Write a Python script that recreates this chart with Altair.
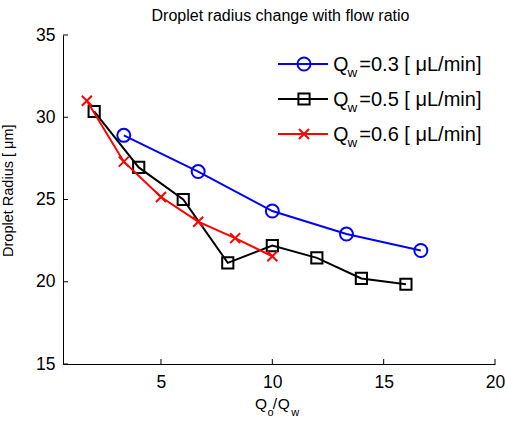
import altair as alt
import pandas as pd

FONT = "Liberation Sans"

# ---- data ----
series_names = ["Qw=0.3", "Qw=0.5", "Qw=0.6"]
legend_rest = ["=0.3 [ \u03bcL/min]", "=0.5 [ \u03bcL/min]", "=0.6 [ \u03bcL/min]"]
series_colors = ["#0000ff", "#000000", "#ff0000"]
series_shapes = ["circle", "square", "M-1,-1L1,1M-1,1L1,-1"]
series_sizes = [169, 125, 100]

x_03 = [3.33, 6.67, 10.0, 13.33, 16.67]
y_03 = [28.9, 26.7, 24.3, 22.9, 21.9]

x_05 = [2.0, 4.0, 6.0, 8.0, 10.0, 12.0, 14.0, 16.0]
y_05 = [30.35, 26.95, 25.0, 21.15, 22.2, 21.45, 20.2, 19.85]

x_06 = [1.67, 3.33, 5.0, 6.67, 8.33, 10.0]
y_06 = [31.0, 27.3, 25.15, 23.65, 22.65, 21.55]

x_ticks = [5, 10, 15, 20]
y_ticks = [15, 20, 25, 30, 35]
x_domain = [0.6, 20]
y_domain = [15, 35]

title_text = "Droplet radius change with flow ratio"
y_title = "Droplet Radius [ \u03bcm]"

# ---- layout ----
W, H = 432, 329

xs = [x_03, x_05, x_06]
ys = [y_03, y_05, y_06]
frames = []
for name, xv, yv in zip(series_names, xs, ys):
    frames.append(pd.DataFrame({"x": xv, "y": yv, "series": name}))

xscale = alt.Scale(domain=x_domain, nice=False, zero=False)
yscale = alt.Scale(domain=y_domain, nice=False, zero=False)

xaxis = alt.Axis(values=x_ticks, tickSize=0, labelFontSize=17.5, labelFont=FONT,
                 labelColor="black", domainColor="black", labelPadding=9,
                 labelFlush=False, labelOverlap=False, grid=False, title=None, format="d")
yaxis = alt.Axis(values=y_ticks, tickSize=0, labelFontSize=17.5, labelFont=FONT,
                 labelColor="black", domainColor="black", labelPadding=8,
                 labelFlush=False, labelOverlap=False, grid=False, title=None, format="d")

layers = []
for df, c, sh, sz in zip(frames, series_colors, series_shapes, series_sizes):
    base = alt.Chart(df).encode(
        x=alt.X("x:Q", scale=xscale, axis=xaxis),
        y=alt.Y("y:Q", scale=yscale, axis=yaxis),
    )
    layers.append(base.mark_line(color=c, strokeWidth=2))
    layers.append(base.mark_point(shape=sh, size=sz, filled=False, color=c,
                                  strokeWidth=2, opacity=1))

# inward ticks
xt = alt.Chart(pd.DataFrame({"t": x_ticks})).mark_rule(color="black", strokeWidth=1).encode(
    x=alt.X("t:Q", scale=xscale, axis=xaxis), y=alt.value(H), y2=alt.value(H - 5))
yt = alt.Chart(pd.DataFrame({"t": y_ticks})).mark_rule(color="black", strokeWidth=1).encode(
    y=alt.Y("t:Q", scale=yscale, axis=yaxis), x=alt.value(0), x2=alt.value(5))
layers += [xt, yt]

# legend
for i, (rest, c, sh, sz) in enumerate(zip(legend_rest, series_colors, series_shapes, series_sizes)):
    yy = 29 + 35 * i
    b = alt.Chart(pd.DataFrame({"rest": [rest]}))
    layers.append(b.mark_rule(color=c, strokeWidth=2).encode(
        x=alt.value(215), x2=alt.value(265), y=alt.value(yy)))
    layers.append(b.mark_point(shape=sh, size=sz, filled=False, color=c, strokeWidth=2, opacity=1).encode(
        x=alt.value(241), y=alt.value(yy)))
    layers.append(b.mark_text(text="Q", font=FONT, fontSize=19.5, align="left",
                              baseline="alphabetic", color="black").encode(
        x=alt.value(270.3), y=alt.value(yy + 7)))
    layers.append(b.mark_text(text="w", font=FONT, fontSize=13.5, align="left",
                              baseline="alphabetic", color="black").encode(
        x=alt.value(284.6), y=alt.value(yy + 13.3)))
    layers.append(b.mark_text(font=FONT, fontSize=20, align="left",
                              baseline="alphabetic", color="black").encode(
        text="rest:N", x=alt.value(296.3), y=alt.value(yy + 7)))

# texts: title, axis titles
one = alt.Chart(pd.DataFrame({"title": [title_text], "ytitle": [y_title]}))
layers.append(one.mark_text(font=FONT, fontSize=16, align="center", baseline="alphabetic",
                            color="black").encode(text="title:N", x=alt.value(217.5), y=alt.value(-14)))
layers.append(one.mark_text(font=FONT, fontSize=14.5, align="center", baseline="alphabetic",
                            angle=270, color="black").encode(text="ytitle:N", x=alt.value(-50.5),
                                                             y=alt.value(155.7)))
xtitle_parts = [("Q", 15.5, 192.0, 0), ("o", 11, 204.6, 7), ("/", 15.5, 209.8, 0),
                ("Q", 15.5, 214.7, 0), ("w", 11, 228.3, 7)]
for txt, fs, px, dy in xtitle_parts:
    layers.append(one.mark_text(text=txt, font=FONT, fontSize=fs, align="left",
                                baseline="alphabetic", color="black").encode(
        x=alt.value(px), y=alt.value(374.3 + dy)))

chart = alt.layer(*layers).properties(
    width=W, height=H,
    autosize=alt.AutoSizeParams(type="none"),
    padding={"left": 63, "top": 35, "right": 10, "bottom": 57},
    background="white",
).configure_view(stroke=None)

chart.save("out.html", embed_options={"renderer": "svg", "actions": False})
